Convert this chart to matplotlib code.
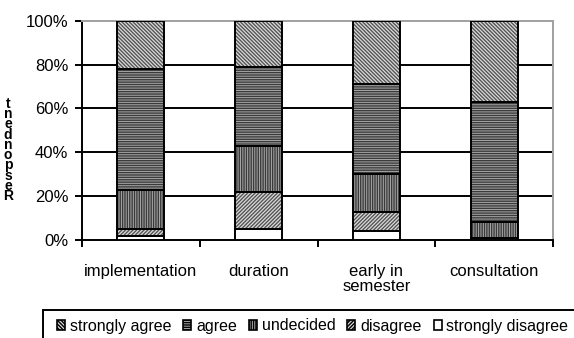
import matplotlib
matplotlib.use("Agg")
import matplotlib.pyplot as plt
from matplotlib.patches import Patch, Rectangle
import numpy as np

plt.rcParams['font.family'] = ['Liberation Sans', 'DejaVu Sans']
plt.rcParams['hatch.linewidth'] = 1.0

categories = ["implementation", "duration", "early in\nsemester", "consultation"]
levels = ["strongly agree", "agree", "undecided", "disagree", "strongly disagree"]

# percentage of respondents per category (stacked bottom-up from strongly disagree)
strongly_disagree = [2, 5, 4, 1]
disagree = [3, 17, 9, 0]
undecided = [18, 21, 17, 7]
agree = [55, 36, 41, 55]
strongly_agree = [22, 21, 29, 37]

stack_order = [strongly_disagree, disagree, undecided, agree, strongly_agree]
stack_names = ["strongly disagree", "disagree", "undecided", "agree", "strongly agree"]
styles = {
    "strongly agree": dict(face="#dcdcdc", hatch="\\" * 9, hc="#555555"),
    "agree": dict(face="#a8a8a8", hatch="-" * 7, hc="#3a3a3a"),
    "undecided": dict(face="#a8a8a8", hatch="|" * 7, hc="#3a3a3a"),
    "disagree": dict(face="#dcdcdc", hatch="/" * 9, hc="#555555"),
    "strongly disagree": dict(face="white", hatch="", hc="black"),
}

fig = plt.figure(figsize=(5.74, 3.38), dpi=100)
ax = fig.add_axes([0.1429, 0.2899, 0.8205, 0.6489])

x = np.arange(len(categories))
width = 0.4
bottom = np.zeros(len(categories))
for vals, name in zip(stack_order, stack_names):
    st = styles[name]
    vals = np.array(vals, dtype=float)
    ax.bar(x, vals, width, bottom=bottom, color=st["face"], hatch=st["hatch"],
           edgecolor=st["hc"], linewidth=0, zorder=3)
    ax.bar(x, vals, width, bottom=bottom, fill=False, edgecolor="black",
           linewidth=1.4, zorder=4)
    bottom += vals

ax.set_xlim(-0.5, len(categories) - 0.5)
ax.set_ylim(0, 100)
ax.set_yticks(np.arange(0, 101, 20))
ax.set_yticklabels([f"{v}%" for v in range(0, 101, 20)], fontsize=12)
ax.set_xticks(x)
ax.set_xticklabels(categories, fontsize=12, linespacing=1.0)
ax.set_xticks(np.arange(-0.5, len(categories), 1.0), minor=True)
ax.tick_params(axis="x", which="major", length=0, pad=17)
ax.tick_params(axis="x", which="minor", length=5, width=1.4, color="black")
ax.tick_params(axis="y", length=5, width=1.4, color="black", pad=5)

for v in range(20, 100, 20):
    ax.axhline(v, color="black", linewidth=1.4, zorder=1)

ax.spines["left"].set_color("black")
ax.spines["left"].set_linewidth(1.4)
ax.spines["bottom"].set_color("black")
ax.spines["bottom"].set_linewidth(1.4)
ax.spines["top"].set_color("#a0a0a0")
ax.spines["top"].set_linewidth(1.4)
ax.spines["right"].set_color("#a0a0a0")
ax.spines["right"].set_linewidth(1.4)

# stacked axis title
fig.text(0.014, 1 - 150 / 338, "\n".join(reversed("Respondent")), fontsize=10,
         fontweight="bold", ha="center", va="center", linespacing=0.66)

# legend frame running off the lower right edge
fig.patches.append(Rectangle((43 / 574, -0.05), 1.0, 1 - 310 / 338 + 0.05,
                             transform=fig.transFigure, fill=False,
                             edgecolor="black", linewidth=1.4))
handles = []
for name in levels:
    st = styles[name]
    handles.append(Patch(facecolor=st["face"], hatch=st["hatch"],
                         edgecolor="black", linewidth=1.2, label=name))
fig.legend(handles=handles, loc="center left",
           bbox_to_anchor=(57 / 574, 1 - 326 / 338), ncol=5, frameon=False,
           fontsize=11.5, handlelength=0.5, handleheight=0.55,
           handletextpad=0.3, columnspacing=0.75, borderpad=0, borderaxespad=0)

fig.savefig("out.png", dpi=100)
